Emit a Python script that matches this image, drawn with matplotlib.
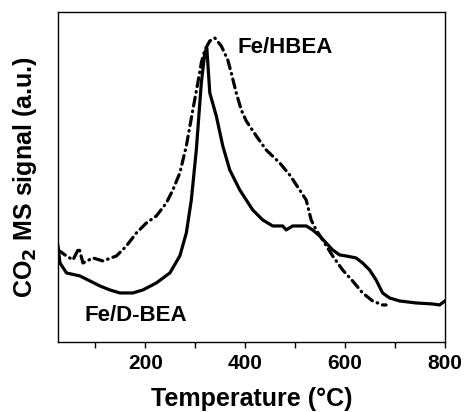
import matplotlib
matplotlib.use("Agg")
import matplotlib.pyplot as plt
from matplotlib.ticker import MultipleLocator

plt.rcParams['font.family'] = ['Liberation Sans', 'DejaVu Sans']
plt.rcParams['font.weight'] = 'bold'

# Fe/D-BEA (solid)
t_dbea = [25, 29, 42, 69, 89, 109, 129, 149, 175, 195, 222, 249, 269, 282, 292, 302,
          312, 319, 323, 329, 342, 355, 369, 375, 389, 402, 415, 435, 455, 475, 482,
          495, 522, 535, 549, 562, 575, 589, 602, 622, 635, 649, 662, 675, 689, 709,
          742, 775, 789, 800]
s_dbea = [96, 79, 69, 66, 61, 56, 52, 49, 49, 52, 59, 69, 86, 109, 142, 192,
          259, 289, 294, 249, 226, 196, 172, 166, 152, 142, 132, 122, 116, 116, 112,
          116, 116, 112, 106, 99, 92, 87, 86, 84, 79, 72, 62, 49, 44, 41,
          39, 38, 37, 41]

# Fe/HBEA (dash-dot)
t_hbea = [25, 42, 55, 67, 75, 95, 115, 142, 162, 182, 202, 222, 242, 255, 269, 282,
          295, 305, 312, 319, 329, 339, 352, 365, 372, 382, 392, 402, 422, 442, 469,
          489, 509, 522, 532, 542, 555, 575, 595, 615, 635, 655, 675, 682]
s_hbea = [92, 86, 82, 94, 79, 84, 81, 86, 96, 109, 119, 126, 139, 152, 169, 196,
          232, 259, 279, 292, 301, 304, 296, 282, 269, 249, 232, 221, 206, 192, 179,
          167, 152, 142, 122, 112, 102, 86, 72, 61, 49, 41, 37, 37]

fig = plt.figure(figsize=(4.65, 4.12), dpi=100)
ax = fig.add_axes([0.1247, 0.170, 0.8323, 0.801])

ax.plot(t_dbea, s_dbea, color='black', lw=2.3, solid_joinstyle='round')
ax.plot(t_hbea, s_hbea, color='black', lw=2.3,
        linestyle=(0, (2.8, 1.6, 0.2, 1.6)), dash_capstyle='round')

ax.text(385, 294, 'Fe/HBEA', fontsize=16, fontweight='bold', va='center', ha='left')
ax.text(79, 26, 'Fe/D-BEA', fontsize=16, fontweight='bold', va='center', ha='left')

ax.set_xlim(25, 800)
ax.set_ylim(0, 330)
ax.xaxis.set_major_locator(MultipleLocator(200))
ax.xaxis.set_minor_locator(MultipleLocator(100))
ax.set_yticks([])
ax.tick_params(axis='x', which='both', direction='out', length=4, width=1,
               labelsize=15, pad=5)
for lbl in ax.get_xticklabels():
    lbl.set_fontweight('bold')
for sp in ax.spines.values():
    sp.set_linewidth(1)

ax.set_xlabel('Temperature (°C)', fontsize=18, fontweight='bold', labelpad=10)
ax.set_ylabel('CO$_\\mathbf{2}$ MS signal (a.u.)', fontsize=18, fontweight='bold', labelpad=14)

fig.savefig('out.png', dpi=100)
